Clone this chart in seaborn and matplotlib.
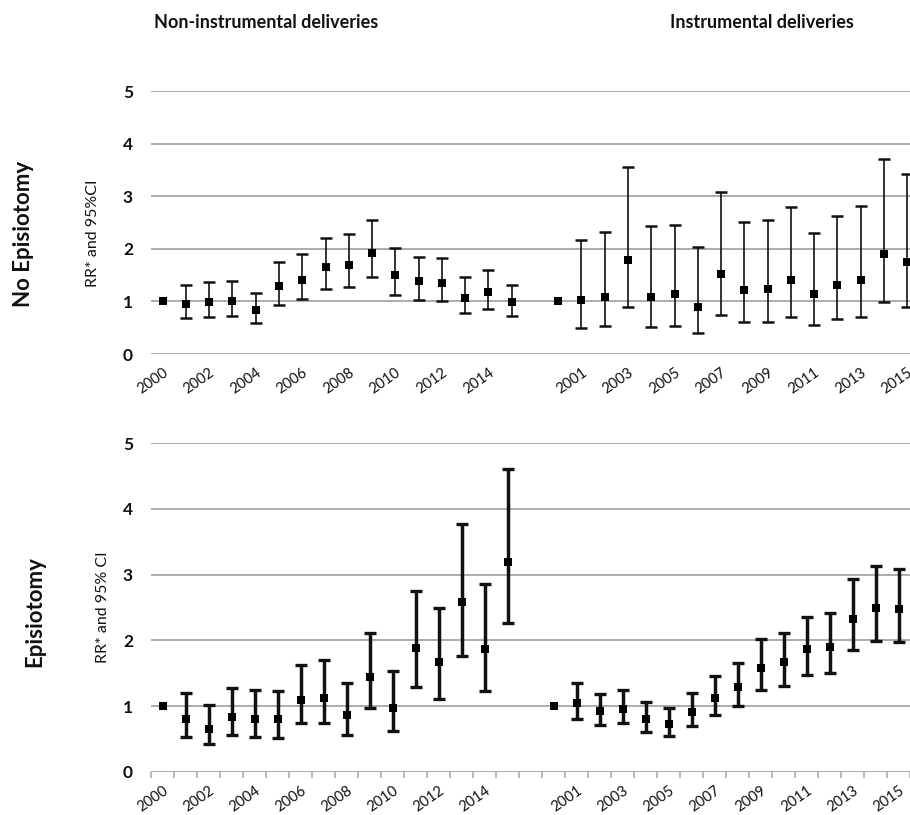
import numpy as np
import seaborn as sns
import matplotlib.pyplot as plt
import pandas as pd

# years shown for each delivery group (2000 is the reference year, RR = 1)
years = list(range(2000, 2016))

# No episiotomy, non-instrumental deliveries
noepi_non_rr = [1.00, 0.95, 0.98, 1.01, 0.83, 1.29, 1.41, 1.65, 1.70, 1.92, 1.50, 1.38, 1.35, 1.07, 1.18, 0.98]
noepi_non_lo = [np.nan, 0.68, 0.71, 0.73, 0.59, 0.94, 1.04, 1.24, 1.28, 1.46, 1.13, 1.03, 1.00, 0.77, 0.85, 0.72]
noepi_non_hi = [np.nan, 1.32, 1.36, 1.39, 1.16, 1.75, 1.90, 2.21, 2.28, 2.54, 2.01, 1.84, 1.82, 1.47, 1.59, 1.32]

# No episiotomy, instrumental deliveries
noepi_ins_rr = [1.00, 1.02, 1.09, 1.78, 1.09, 1.15, 0.90, 1.53, 1.22, 1.23, 1.40, 1.14, 1.32, 1.41, 1.91, 1.74]
noepi_ins_lo = [np.nan, 0.49, 0.53, 0.89, 0.51, 0.54, 0.40, 0.75, 0.60, 0.60, 0.70, 0.56, 0.66, 0.71, 0.99, 0.89]
noepi_ins_hi = [np.nan, 2.17, 2.32, 3.56, 2.43, 2.46, 2.04, 3.08, 2.51, 2.54, 2.80, 2.30, 2.63, 2.82, 3.70, 3.42]

# Episiotomy, non-instrumental deliveries
epi_non_rr = [1.00, 0.80, 0.65, 0.84, 0.81, 0.80, 1.10, 1.13, 0.87, 1.44, 0.98, 1.88, 1.67, 2.59, 1.87, 3.19]
epi_non_lo = [np.nan, 0.53, 0.42, 0.56, 0.53, 0.52, 0.74, 0.75, 0.56, 0.98, 0.63, 1.29, 1.11, 1.77, 1.23, 2.27]
epi_non_hi = [np.nan, 1.20, 1.02, 1.28, 1.25, 1.23, 1.63, 1.70, 1.36, 2.11, 1.53, 2.75, 2.49, 3.77, 2.85, 4.60]

# Episiotomy, instrumental deliveries
epi_ins_rr = [1.00, 1.05, 0.92, 0.96, 0.81, 0.73, 0.91, 1.12, 1.29, 1.58, 1.67, 1.87, 1.90, 2.33, 2.49, 2.47]
epi_ins_lo = [np.nan, 0.81, 0.71, 0.74, 0.61, 0.54, 0.70, 0.86, 1.01, 1.24, 1.31, 1.48, 1.50, 1.85, 1.99, 1.97]
epi_ins_hi = [np.nan, 1.35, 1.19, 1.25, 1.07, 0.97, 1.20, 1.46, 1.66, 2.02, 2.12, 2.36, 2.42, 2.93, 3.13, 3.09]

y_ticks = [0, 1, 2, 3, 4, 5]

sns.set_theme(style="white")
plt.rcParams['font.family'] = ['Lato', 'DejaVu Sans']

n = len(years)
pos_non = np.arange(n)
pos_ins = np.arange(n) + n + 1
cat_labels = [str(y) for y in years] + [''] + [str(y) for y in years]


def make_frame(rr, lo, hi, pos, group):
    return pd.DataFrame({'pos': pos, 'rr': rr, 'lo': lo, 'hi': hi, 'group': group})


def draw_panel(ax, df, lw, capthick, msize, ylabel, label_x, label_y, ticks_down):
    for y in y_ticks:
        ax.axhline(y, color='#a6a6a6', lw=1.3, zorder=0)
    err = np.vstack([df['rr'] - df['lo'], df['hi'] - df['rr']])
    ax.errorbar(df['pos'], df['rr'], yerr=err, fmt='none', ecolor='#111111',
                elinewidth=lw, capsize=4.5, capthick=capthick, zorder=2)
    sns.scatterplot(data=df, x='pos', y='rr', marker='s', color='black', s=msize,
                    edgecolor='black', linewidth=0, ax=ax, zorder=3, legend=False)
    ax.set_xlim(-0.5, -0.5 + 759 / 23.27)
    ax.set_ylim(0, 5)
    ax.set_yticks(y_ticks)
    ax.set_yticklabels([str(t) for t in y_ticks], fontweight='bold', fontsize=12.5, color='#111111')
    ax.tick_params(axis='y', length=0, pad=13)
    label_pos = np.arange(0, len(cat_labels), 2)
    ax.set_xticks(label_pos)
    ax.set_xticklabels([cat_labels[i] for i in label_pos], rotation=35, ha='right',
                       rotation_mode='anchor', fontsize=10.5, color='#111111')
    if ticks_down:
        ax.set_xticks(np.arange(-0.5, len(cat_labels), 1), minor=True)
        ax.tick_params(axis='x', which='minor', bottom=True, length=4, width=1.1, color='#a6a6a6')
    ax.tick_params(axis='x', which='major', length=0, pad=8)
    ax.set_xlabel('')
    ax.set_ylabel(ylabel, fontsize=11.5, color='#111111')
    ax.yaxis.set_label_coords(label_x, label_y)
    for s in ax.spines.values():
        s.set_visible(False)
    ax.grid(False)


fig = plt.figure(figsize=(9.1, 8.15), dpi=100)
W, H = 910, 815
ax_top = fig.add_axes([151 / W, (H - 354) / H, 759 / W, 263 / H])
ax_bot = fig.add_axes([151 / W, (H - 772) / H, 759 / W, 329 / H])

top_df = pd.concat([make_frame(noepi_non_rr, noepi_non_lo, noepi_non_hi, pos_non, 'non'),
                    make_frame(noepi_ins_rr, noepi_ins_lo, noepi_ins_hi, pos_ins, 'ins')])
bot_df = pd.concat([make_frame(epi_non_rr, epi_non_lo, epi_non_hi, pos_non, 'non'),
                    make_frame(epi_ins_rr, epi_ins_lo, epi_ins_hi, pos_ins, 'ins')])

draw_panel(ax_top, top_df, 1.2, 1.8, 32, 'RR* and 95%CI', -0.067, 0.46, False)
draw_panel(ax_bot, bot_df, 2.5, 2.4, 40, 'RR* and 95% CI', -0.054, 0.50, True)

fig.text(266 / W, (H - 22) / H, 'Non-instrumental deliveries', ha='center', va='center',
         fontsize=13, fontweight='bold', color='#111111')
fig.text(762 / W, (H - 22) / H, 'Instrumental deliveries', ha='center', va='center',
         fontsize=13, fontweight='bold', color='#111111')
fig.text(24 / W, (H - 234) / H, 'No Episiotomy', rotation=90, ha='center', va='center',
         fontsize=16, fontweight='bold', color='#111111')
fig.text(35 / W, (H - 612) / H, 'Episiotomy', rotation=90, ha='center', va='center',
         fontsize=16, fontweight='bold', color='#111111')

fig.savefig('out.png', dpi=100, facecolor='white')
